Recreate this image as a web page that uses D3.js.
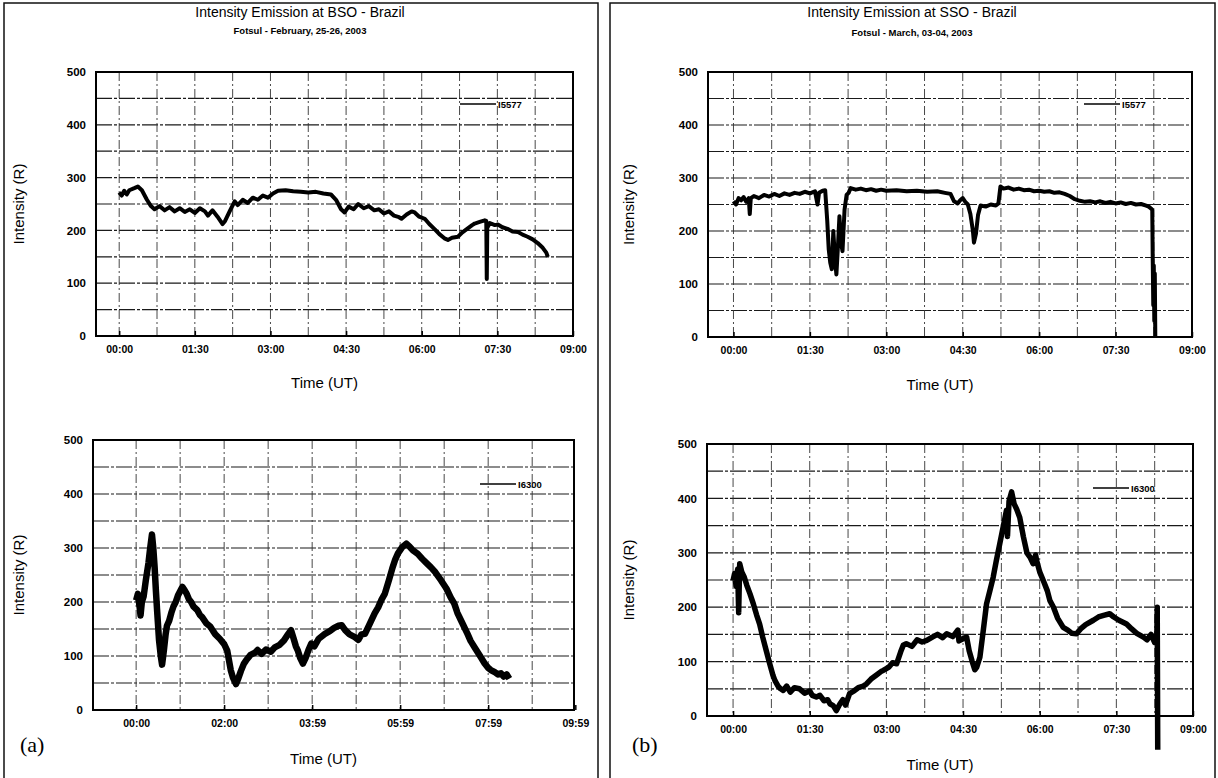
<!DOCTYPE html>
<html>
<head>
<meta charset="utf-8">
<script src="https://cdn.jsdelivr.net/npm/d3@7"></script>
<style>
  body { margin: 0; background: #fff; }
  svg { display: block; font-family: Arial, "Liberation Sans", sans-serif; }
</style>
</head>
<body>
<div id="canvas"></div>
<script>
// time in hours after 00:00 UT, intensity in R
const bso5577 = [[0,272],[0.05,266],[0.1,275],[0.15,268],[0.2,276],[0.3,280],[0.37,283],[0.45,276],[0.55,258],[0.63,246],[0.7,240],[0.8,246],[0.9,238],[1.0,244],[1.1,236],[1.2,242],[1.3,235],[1.4,240],[1.5,233],[1.6,242],[1.7,236],[1.76,228],[1.85,238],[1.95,226],[2.05,212],[2.1,218],[2.2,238],[2.29,255],[2.35,248],[2.45,258],[2.55,252],[2.65,262],[2.75,258],[2.85,266],[2.95,262],[3.05,270],[3.15,275],[3.3,276],[3.45,274],[3.6,273],[3.75,272],[3.9,273],[4.05,270],[4.2,268],[4.3,258],[4.4,240],[4.47,234],[4.55,245],[4.65,240],[4.74,250],[4.85,242],[4.95,246],[5.06,238],[5.15,240],[5.25,232],[5.35,236],[5.45,228],[5.55,225],[5.6,222],[5.7,230],[5.8,236],[5.86,234],[5.95,226],[6.06,222],[6.15,212],[6.26,202],[6.35,193],[6.45,185],[6.52,182],[6.6,186],[6.72,188],[6.8,196],[6.9,203],[7.0,210],[7.05,213],[7.15,216],[7.25,219],[7.28,218],[7.29,108],[7.3,205],[7.35,214],[7.45,210],[7.51,211],[7.6,206],[7.7,203],[7.8,198],[7.91,197],[8.0,192],[8.1,188],[8.2,183],[8.3,176],[8.4,167],[8.47,158],[8.5,150]];

const sso5577 = [[0,256],[0.05,250],[0.1,262],[0.15,258],[0.2,264],[0.25,255],[0.3,262],[0.32,232],[0.34,262],[0.4,266],[0.5,262],[0.6,268],[0.7,265],[0.8,270],[0.9,266],[1.0,271],[1.1,268],[1.2,272],[1.3,270],[1.4,274],[1.5,271],[1.6,275],[1.65,250],[1.68,272],[1.75,276],[1.8,277],[1.84,220],[1.87,165],[1.9,140],[1.93,128],[1.96,200],[1.99,150],[2.02,118],[2.05,170],[2.08,228],[2.11,180],[2.14,162],[2.18,240],[2.22,268],[2.26,272],[2.3,281],[2.4,278],[2.5,280],[2.6,277],[2.7,279],[2.8,276],[2.9,278],[3.0,276],[3.2,277],[3.4,275],[3.6,276],[3.8,274],[4.0,275],[4.15,272],[4.26,270],[4.33,256],[4.4,252],[4.45,258],[4.5,262],[4.55,255],[4.6,250],[4.65,232],[4.7,200],[4.72,178],[4.76,195],[4.8,230],[4.85,248],[4.95,246],[5.05,250],[5.15,248],[5.2,252],[5.24,284],[5.3,280],[5.4,282],[5.5,278],[5.6,280],[5.7,277],[5.8,278],[5.9,275],[6.0,276],[6.1,274],[6.2,275],[6.3,272],[6.4,273],[6.5,270],[6.6,266],[6.7,260],[6.8,257],[6.9,255],[7.0,256],[7.1,254],[7.2,256],[7.3,253],[7.4,255],[7.5,252],[7.6,254],[7.7,251],[7.8,253],[7.9,250],[8.0,251],[8.1,248],[8.15,246],[8.2,242],[8.22,240],[8.23,140],[8.24,60],[8.25,135],[8.26,30],[8.27,120],[8.28,0]];

const bso6300 = [[0,203],[0.04,215],[0.08,190],[0.1,175],[0.13,200],[0.17,210],[0.22,240],[0.28,272],[0.32,300],[0.36,325],[0.39,300],[0.42,265],[0.45,220],[0.48,180],[0.52,130],[0.56,100],[0.59,84],[0.63,110],[0.67,140],[0.7,156],[0.75,165],[0.8,180],[0.85,192],[0.9,200],[0.95,212],[1.0,220],[1.05,228],[1.1,222],[1.15,215],[1.2,205],[1.25,200],[1.3,192],[1.39,185],[1.45,176],[1.5,172],[1.6,160],[1.69,154],[1.75,146],[1.8,140],[1.9,132],[2.0,122],[2.07,110],[2.15,74],[2.2,60],[2.27,48],[2.32,58],[2.38,72],[2.45,86],[2.5,92],[2.6,102],[2.7,106],[2.76,111],[2.85,104],[2.95,112],[3.06,108],[3.15,116],[3.25,120],[3.36,129],[3.45,140],[3.52,148],[3.58,132],[3.63,118],[3.67,111],[3.73,96],[3.79,86],[3.85,96],[3.92,112],[3.98,123],[4.05,118],[4.15,132],[4.29,141],[4.4,146],[4.5,152],[4.6,156],[4.67,157],[4.75,148],[4.85,140],[4.97,135],[5.05,130],[5.12,140],[5.2,141],[5.3,158],[5.42,179],[5.5,190],[5.58,205],[5.65,215],[5.75,242],[5.82,262],[5.88,277],[5.95,290],[6.05,302],[6.14,308],[6.22,302],[6.3,295],[6.4,289],[6.5,280],[6.6,272],[6.7,264],[6.8,255],[6.93,240],[7.05,225],[7.15,208],[7.23,197],[7.3,180],[7.4,163],[7.53,141],[7.6,128],[7.7,115],[7.83,98],[7.92,86],[8.0,78],[8.06,74],[8.15,70],[8.22,66],[8.29,68],[8.35,62],[8.42,66],[8.48,58]];

const sso6300 = [[0,249],[0.03,262],[0.06,238],[0.09,270],[0.11,190],[0.13,280],[0.17,265],[0.22,255],[0.27,240],[0.33,225],[0.4,205],[0.46,186],[0.52,169],[0.58,145],[0.65,120],[0.72,95],[0.78,75],[0.82,65],[0.88,55],[0.93,50],[0.98,47],[1.05,55],[1.12,44],[1.2,52],[1.3,50],[1.4,42],[1.5,46],[1.55,38],[1.63,35],[1.7,38],[1.78,28],[1.85,30],[1.9,22],[1.96,19],[2.02,10],[2.09,22],[2.15,30],[2.2,20],[2.28,41],[2.35,45],[2.45,52],[2.55,55],[2.61,59],[2.7,68],[2.8,75],[2.9,82],[2.94,84],[3.05,90],[3.12,98],[3.2,96],[3.28,118],[3.33,130],[3.39,133],[3.5,128],[3.6,140],[3.7,136],[3.79,139],[3.9,145],[4.0,150],[4.1,144],[4.18,151],[4.3,146],[4.4,158],[4.42,138],[4.5,142],[4.57,145],[4.62,120],[4.68,100],[4.73,85],[4.77,90],[4.83,108],[4.9,160],[4.96,206],[5.03,232],[5.09,255],[5.15,285],[5.22,317],[5.28,345],[5.35,378],[5.37,330],[5.4,395],[5.45,412],[5.5,390],[5.55,380],[5.61,365],[5.68,330],[5.75,300],[5.81,292],[5.87,280],[5.92,296],[5.94,286],[6.0,265],[6.07,249],[6.15,230],[6.2,212],[6.27,200],[6.35,180],[6.46,163],[6.55,158],[6.63,152],[6.72,151],[6.8,160],[6.9,168],[7.05,176],[7.15,182],[7.25,185],[7.37,188],[7.45,182],[7.55,176],[7.7,169],[7.8,160],[7.9,152],[8.03,145],[8.1,140],[8.18,150],[8.25,135],[8.29,133],[8.3,200],[8.31,-62]];

const yTicks = [0, 100, 200, 300, 400, 500];
const yGrid = [50, 100, 150, 200, 250, 300, 350, 400, 450];
const xTicks90 = [0, 1.5, 3, 4.5, 6, 7.5, 9];
const xLabels90 = ["00:00", "01:30", "03:00", "04:30", "06:00", "07:30", "09:00"];
const xGrid45 = [0, 0.75, 1.5, 2.25, 3, 3.75, 4.5, 5.25, 6, 6.75, 7.5, 8.25];
const xTicksA6300 = [0, 2, 4, 6, 8, 9.98];
const xLabelsA6300 = ["00:00", "02:00", "03:59", "05:59", "07:59", "09:59"];
const xGrid60 = [0, 1, 2, 3, 4, 5, 6, 7, 8, 9];

const width = 1218, height = 778;
const svg = d3.select("#canvas").append("svg").attr("width", width).attr("height", height);

// the two scanned frames
svg.append("path").attr("d", "M4,778V3H598V778").attr("fill", "none").attr("stroke", "#111").attr("stroke-width", 1.5);
svg.append("path").attr("d", "M610,778V3H1215V778").attr("fill", "none").attr("stroke", "#111").attr("stroke-width", 1.5);

function drawChart(c) {
  const x = d3.scaleLinear().domain(c.xDomain).range([c.left, c.right]);
  const y = d3.scaleLinear().domain([0, 500]).range([c.bottom, c.top]);
  const g = svg.append("g");

  g.selectAll(".hgrid").data(yGrid).enter().append("line")
    .attr("x1", c.left).attr("x2", c.right)
    .attr("y1", d => y(d)).attr("y2", d => y(d))
    .attr("stroke", "#1a1a1a").attr("stroke-width", 1.2)
    .attr("stroke-dasharray", "16,2,3,2");

  g.selectAll(".vgrid").data(c.xGrid).enter().append("line")
    .attr("x1", d => x(d)).attr("x2", d => x(d))
    .attr("y1", c.top).attr("y2", c.bottom)
    .attr("stroke", "#333").attr("stroke-width", 0.9)
    .attr("stroke-dasharray", "9,3,2,3");

  g.append("rect")
    .attr("x", c.left).attr("y", c.top)
    .attr("width", c.right - c.left).attr("height", c.bottom - c.top)
    .attr("fill", "none").attr("stroke", "#000").attr("stroke-width", 2);

  g.append("path").datum(c.data)
    .attr("fill", "none").attr("stroke", "#000")
    .attr("stroke-width", c.lineWidth).attr("stroke-linejoin", "round")
    .attr("d", d3.line().x(d => x(d[0])).y(d => y(d[1])));

  const ya = g.append("g")
    .attr("transform", `translate(${c.left},0)`)
    .call(d3.axisLeft(y).tickValues(yTicks).tickSize(0).tickPadding(10));
  ya.select(".domain").remove();
  ya.selectAll("text").attr("font-size", 11.5).attr("font-weight", "bold").attr("fill", "#000")
    .attr("font-family", "Arial, 'Liberation Sans', sans-serif");

  const xa = g.append("g")
    .attr("transform", `translate(0,${c.bottom})`)
    .call(d3.axisBottom(x).tickValues(c.xTicks).tickSize(-5).tickPadding(10)
      .tickFormat((d, i) => c.xLabels[i]));
  xa.select(".domain").remove();
  xa.selectAll("line").attr("stroke", "#000").attr("stroke-width", 1.5);
  xa.selectAll("text").attr("font-size", 10.5).attr("font-weight", "bold").attr("fill", "#000")
    .attr("font-family", "Arial, 'Liberation Sans', sans-serif");

  svg.append("text")
    .attr("transform", `translate(${c.ytitleX},${(c.top + c.bottom) / 2}) rotate(-90)`)
    .attr("text-anchor", "middle").attr("font-size", 15)
    .text("Intensity (R)");

  svg.append("text")
    .attr("x", (c.left + c.right) / 2 - 10).attr("y", c.xtitleY)
    .attr("text-anchor", "middle").attr("font-size", 15)
    .text("Time (UT)");

  // legend
  svg.append("line")
    .attr("x1", c.legX).attr("x2", c.legX + 36)
    .attr("y1", c.legY).attr("y2", c.legY)
    .attr("stroke", "#000").attr("stroke-width", 1.5);
  svg.append("text")
    .attr("x", c.legX + 38).attr("y", c.legY + 4)
    .attr("font-size", 9.5).attr("font-weight", "bold")
    .text(c.name);
}

drawChart({ name: "I5577", data: bso5577, lineWidth: 4,
  left: 96, right: 573, top: 72, bottom: 336, xDomain: [-0.46, 9],
  xTicks: xTicks90, xLabels: xLabels90, xGrid: xGrid45,
  ytitleX: 24, xtitleY: 388, legX: 460, legY: 104 });

drawChart({ name: "I5577", data: sso5577, lineWidth: 4,
  left: 708, right: 1192, top: 72, bottom: 337, xDomain: [-0.5, 9],
  xTicks: xTicks90, xLabels: xLabels90, xGrid: xGrid45,
  ytitleX: 634, xtitleY: 390, legX: 1084, legY: 104 });

drawChart({ name: "I6300", data: bso6300, lineWidth: 6.5,
  left: 93, right: 574, top: 440, bottom: 710, xDomain: [-0.98, 9.95],
  xTicks: xTicksA6300, xLabels: xLabelsA6300, xGrid: xGrid60,
  ytitleX: 24, xtitleY: 764, legX: 480, legY: 484 });

drawChart({ name: "I6300", data: sso6300, lineWidth: 5.5,
  left: 707, right: 1193, top: 444, bottom: 716, xDomain: [-0.51, 9],
  xTicks: xTicks90, xLabels: xLabels90, xGrid: xGrid45,
  ytitleX: 634, xtitleY: 770, legX: 1093, legY: 488 });

// titles
svg.append("text").attr("x", 300).attr("y", 17).attr("text-anchor", "middle")
  .attr("font-size", 14).text("Intensity Emission at BSO - Brazil");
svg.append("text").attr("x", 300).attr("y", 34).attr("text-anchor", "middle")
  .attr("font-size", 9.5).attr("font-weight", "bold").text("Fotsul - February, 25-26, 2003");
svg.append("text").attr("x", 912).attr("y", 17).attr("text-anchor", "middle")
  .attr("font-size", 14).text("Intensity Emission at SSO - Brazil");
svg.append("text").attr("x", 912).attr("y", 36).attr("text-anchor", "middle")
  .attr("font-size", 9.5).attr("font-weight", "bold").text("Fotsul - March, 03-04, 2003");

svg.append("text").attr("x", 20).attr("y", 752)
  .attr("font-family", "'Liberation Serif', 'Times New Roman', serif").attr("font-size", 22).text("(a)");
svg.append("text").attr("x", 632).attr("y", 752)
  .attr("font-family", "'Liberation Serif', 'Times New Roman', serif").attr("font-size", 22).text("(b)");
</script>
</body>
</html>
